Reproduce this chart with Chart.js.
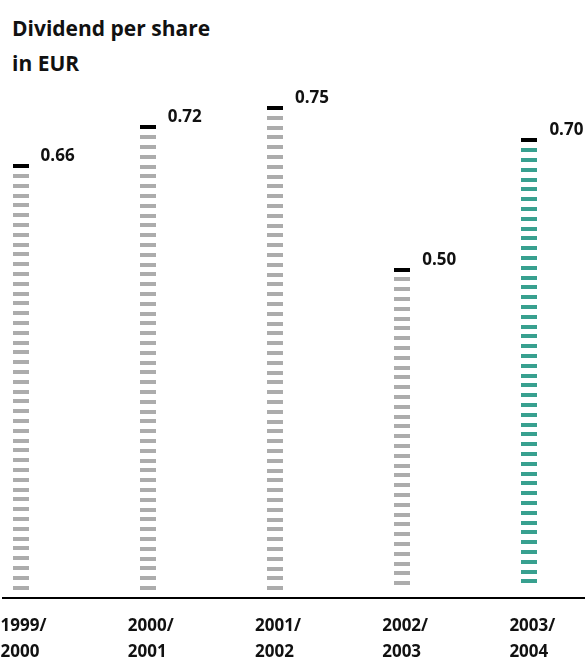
<!DOCTYPE html>
<html>
<head>
<meta charset="utf-8">
<script src="https://cdn.jsdelivr.net/npm/chart.js@4.4.1/dist/chart.umd.min.js"></script>
<style>
  html, body { margin: 0; padding: 0; background: #fff; overflow: hidden; }
  body { width: 585px; height: 658px; position: relative; }
  #title {
    position: absolute; left: 12px; top: 11px;
    font: bold 21px "Open Sans", sans-serif; line-height: 35px; color: #111;
  }
  #wrap { position: absolute; left: -43px; top: 0; width: 636px; height: 658px; }
</style>
</head>
<body>
<div id="title">Dividend per share<br>in EUR</div>
<div id="wrap"><canvas id="dividendChart"></canvas></div>
<script>
// fiscal years and dividend per share (EUR)
const years = [["1999/", "2000"], ["2000/", "2001"], ["2001/", "2002"], ["2002/", "2003"], ["2003/", "2004"]];
const dividends = [0.66, 0.72, 0.75, 0.50, 0.70];
const valueLabels = ["0.66", "0.72", "0.75", "0.50", "0.70"];

const GREY = "#acacac";
const TEAL = "#38a08f";
const LABEL_FONT = "bold 17px 'Open Sans', sans-serif";

document.addEventListener("DOMContentLoaded", function () {
    // each bar is a stack of short dashes with a black cap on top
    const dashedBars = {
        id: "dashedBars",
        afterDatasetsDraw(chart) {
            const ctx = chart.ctx;
            const meta = chart.getDatasetMeta(0);
            const step = 9.8, dashH = 4;
            ctx.save();
            meta.data.forEach((bar, i) => {
                const { x, y, base, width } = bar.getProps(["x", "y", "base", "width"], true);
                const left = Math.round(x - width / 2);
                for (let k = 0; y + k * step + dashH <= base + 1; k++) {
                    ctx.fillStyle = k === 0 ? "#000" : (i === dividends.length - 1 ? TEAL : GREY);
                    ctx.fillRect(left, Math.round(y + k * step), width, dashH);
                }
                // value next to the cap
                ctx.fillStyle = "#111";
                ctx.font = LABEL_FONT;
                ctx.textAlign = "left";
                ctx.textBaseline = "alphabetic";
                ctx.fillText(valueLabels[i], x + 20, y - 3);
            });

            // baseline and year labels
            const area = chart.chartArea;
            ctx.fillStyle = "#000";
            ctx.fillRect(45, area.bottom + 6, chart.width - 45, 2);
            ctx.fillStyle = "#111";
            ctx.font = LABEL_FONT;
            const xScale = chart.scales.x;
            years.forEach((lines, i) => {
                const px = xScale.getPixelForValue(i) - 20;
                ctx.fillText(lines[0], px, area.bottom + 40);
                ctx.fillText(lines[1], px, area.bottom + 66);
            });
            ctx.restore();
        }
    };

    new Chart(document.getElementById("dividendChart"), {
        type: "bar",
        data: {
            labels: years,
            datasets: [{
                data: dividends,
                backgroundColor: "rgba(0,0,0,0)",
                borderWidth: 0,
                barThickness: 16
            }]
        },
        options: {
            responsive: true,
            maintainAspectRatio: false,
            animation: false,
            layout: { padding: { top: 106, bottom: 67, left: 0, right: 0 } },
            plugins: { legend: { display: false }, tooltip: { enabled: false } },
            scales: {
                x: { display: false },
                y: { display: false, min: 0, max: 0.75 }
            }
        },
        plugins: [dashedBars]
    });
});
</script>
</body>
</html>
